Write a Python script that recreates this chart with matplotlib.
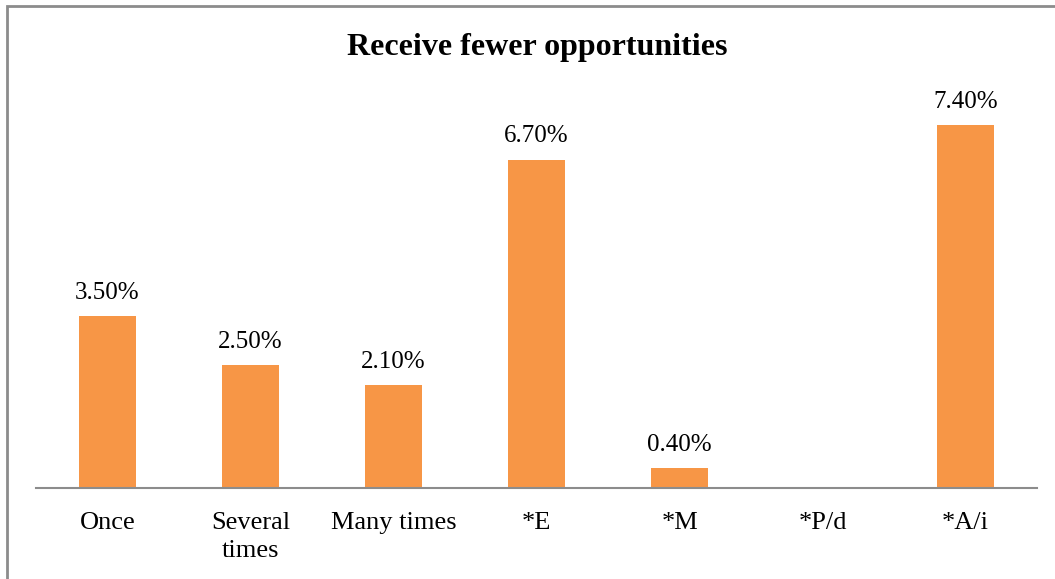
import matplotlib.pyplot as plt
import numpy as np
from matplotlib.patches import Rectangle

categories = ["Once", "Several\ntimes", "Many times", "*E", "*M", "*P/d", "*A/i"]
values = [3.5, 2.5, 2.1, 6.7, 0.4, np.nan, 7.4]

BAR_COLOR = "#F79646"

plt.rcParams["font.family"] = ["Liberation Serif", "DejaVu Serif"]

fig = plt.figure(figsize=(10.55, 5.79), dpi=100)
ax = fig.add_axes([0.0341, 0.1572, 0.949, 0.677])

x = np.arange(len(categories))
ax.bar(x, np.nan_to_num(values), width=0.4, color=BAR_COLOR)

for xi, v in zip(x, values):
    if np.isnan(v):
        continue
    ax.annotate(f"{v:.2f}%", (xi, v), xytext=(0, 12.5), textcoords="offset points",
                ha="center", va="baseline", fontsize=18)

ax.set_xlim(-0.5, len(categories) - 0.5)
ax.set_ylim(0, 8)
ax.set_xticks(x)
ax.set_xticklabels(categories, fontsize=19, linespacing=1.38)
ax.tick_params(axis="x", length=0, pad=17)
ax.set_yticks([])
for side in ["top", "right", "left"]:
    ax.spines[side].set_visible(False)
ax.spines["bottom"].set_color("#8C8C8C")
ax.spines["bottom"].set_linewidth(1.5)

fig.text(0.509, 1 - 55 / 579, "Receive fewer opportunities", ha="center", va="baseline",
         fontsize=23, fontweight="bold")

# chart frame, only top and left edges fall inside the picture
fig.patches.append(Rectangle((6.5 / 1055, -0.05), 1.2, 1 - 6 / 579 + 0.05,
                             transform=fig.transFigure, fill=False,
                             edgecolor="#8C8C8C", linewidth=2))

fig.savefig("out.png", dpi=100)
